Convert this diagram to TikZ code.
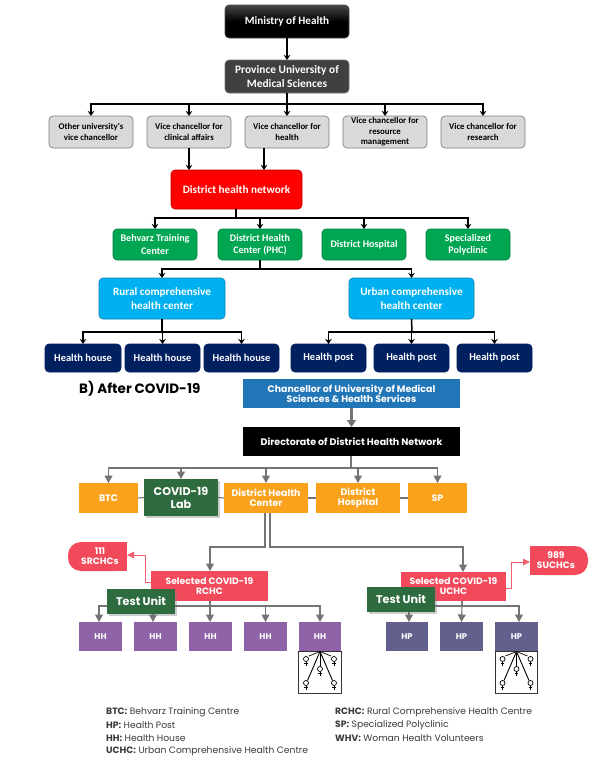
\documentclass[tikz,border=0pt]{standalone}
\usepackage{fontspec}
\setmainfont{Poppins}
\newfontfamily\topfont{Carlito}
\usetikzlibrary{arrows.meta,shadows,calc,shapes.misc}
\definecolor{gbox}{HTML}{D9D9D9}
\definecolor{gedge}{HTML}{7F7F7F}
\definecolor{netgreen}{HTML}{00A651}
\definecolor{skyb}{HTML}{00B0F0}
\definecolor{navyb}{HTML}{002060}
\definecolor{chanb}{HTML}{2176B8}
\definecolor{orangeb}{HTML}{FAA21B}
\definecolor{labg}{HTML}{2E6B3E}
\definecolor{redb}{HTML}{F24A5A}
\definecolor{pinkl}{HTML}{F2606E}
\definecolor{purpb}{HTML}{8F63A8}
\definecolor{slateb}{HTML}{62618E}
\definecolor{linegray}{HTML}{747474}
\definecolor{legtext}{HTML}{3A3A3A}
\tikzset{
  x=1pt,y=-1pt,
  boxbase/.style={inner sep=0pt,outer sep=0pt,align=center,font=\topfont\bfseries},
  roundbase/.style={boxbase,rounded corners=4pt,line width=.6pt,text=white},
  minbox/.style={roundbase,draw=black!70,top color=black!72,bottom color=black,middle color=black,font=\topfont\bfseries\fontsize{11.2}{14}\selectfont},
  provbox/.style={roundbase,draw=black!55,fill=black!75,font=\topfont\bfseries\fontsize{11.4}{14}\selectfont},
  vcbox/.style={roundbase,draw=gedge,fill=gbox,text=black,line width=.7pt,font=\topfont\bfseries\fontsize{8.8}{10.4}\selectfont},
  redbox/.style={roundbase,draw=red!75!black,fill=red,font=\topfont\bfseries\fontsize{11.2}{14}\selectfont},
  greenbox/.style={roundbase,draw=netgreen!75!black,fill=netgreen,font=\topfont\bfseries\fontsize{10.1}{12.5}\selectfont},
  skybox/.style={roundbase,draw=skyb!75!black,fill=skyb,font=\topfont\bfseries\fontsize{11.2}{14}\selectfont},
  navybox/.style={roundbase,draw=navyb,fill=navyb,font=\topfont\bfseries\fontsize{10.5}{13}\selectfont},
  chanbox/.style={boxbase,fill=chanb,text=white,font=\bfseries\fontsize{9.4}{10.2}\selectfont},
  blackbox/.style={boxbase,fill=black,text=white,font=\bfseries\fontsize{9.5}{10}\selectfont},
  orgbox/.style={boxbase,fill=orangeb,text=white,font=\bfseries\fontsize{9.4}{9.6}\selectfont},
  labbox/.style={boxbase,fill=labg,text=white,drop shadow={shadow xshift=1.5pt,shadow yshift=-1.5pt,opacity=.4},font=\bfseries\fontsize{11.2}{12.8}\selectfont},
  selbox/.style={boxbase,fill=redb,text=white,font=\bfseries\fontsize{9.2}{10}\selectfont},
  capbox/.style={inner sep=0pt,outer sep=0pt,align=center,text=white,font=\bfseries\fontsize{9.2}{10}\selectfont},
  hhbox/.style={boxbase,fill=purpb,text=white,font=\bfseries\fontsize{8.3}{9}\selectfont},
  hpbox/.style={boxbase,fill=slateb,text=white,font=\bfseries\fontsize{8.3}{9}\selectfont},
  wbox/.style={inner sep=0pt,outer sep=0pt,draw=black!80,line width=.9pt,fill=white},
  blk/.style={line width=1.5pt,black},
  blkarr/.style={blk,-{Stealth[length=5pt,width=6.5pt]}},
  gry/.style={line width=1.1pt,linegray},
  gryarr/.style={gry,-{Triangle[length=7.5pt,width=8pt]}},
  gryfat/.style={line width=2.4pt,linegray,-{Triangle[length=7pt,width=9pt]}},
  pnk/.style={line width=1pt,pinkl,-{Triangle[length=7pt,width=6.5pt]}},
  legend/.style={inner sep=0pt,anchor=west,text=legtext,font=\fontsize{9.2}{10}\selectfont},
  ttl/.style={inner sep=0pt,anchor=west,text=black,font=\bfseries\fontsize{13.5}{15}\selectfont},
  venus/.pic={\draw[line width=.7pt,black] (0,0) circle (2.5);
    \draw[line width=.7pt,black] (0,2.5) -- (0,6.5) (-1.8,4.7) -- (1.8,4.7);}
}
\newcommand{\bx}[7]{\node[#2,minimum width={(#5-#3)*1pt},minimum height={(#6-#4)*1pt}] (#1) at ({(#3+#5)/2},{(#4+#6)/2}) {#7};}
\begin{document}
\begin{tikzpicture}
\useasboundingbox (0,0) rectangle (590,764);
\fill[white] (0,0) rectangle (590,764);
% top chart
\bx{moh}{minbox}{225}{5}{349}{38}{Ministry of Health}
\bx{prov}{provbox}{225}{60}{349}{93}{Province University of\\Medical Sciences}
\bx{vca}{vcbox}{49}{116}{133}{148}{Other university's\\vice chancellor}
\bx{vcb}{vcbox}{147}{116}{231}{148}{Vice chancellor for\\clinical affairs}
\bx{vcc}{vcbox}{245}{116}{329}{148}{Vice chancellor for\\health}
\bx{vcd}{vcbox}{343}{116}{427}{148}{Vice chancellor for\\resource\\management}
\bx{vce}{vcbox}{441}{116}{525}{148}{Vice chancellor for\\research}
\bx{dhn}{redbox}{171}{170}{302}{209}{District health network}
\bx{gra}{greenbox}{113}{229}{197}{260}{Behvarz Training\\Center}
\bx{grb}{greenbox}{218}{229}{302}{260}{District Health\\Center (PHC)}
\bx{grc}{greenbox}{322}{229}{406}{260}{District Hospital}
\bx{grd}{greenbox}{426}{229}{510}{260}{Specialized\\Polyclinic}
\bx{rur}{skybox}{99}{278}{225}{319}{Rural comprehensive\\health center}
\bx{urb}{skybox}{349}{278}{474}{319}{Urban comprehensive\\health center}
\bx{nva}{navybox}{45}{344}{121}{372}{Health house}
\bx{nvb}{navybox}{125}{344}{200}{372}{Health house}
\bx{nvc}{navybox}{204}{344}{279}{372}{Health house}
\bx{nvd}{navybox}{291}{344}{366}{372}{Health post}
\bx{nve}{navybox}{374}{344}{449}{372}{Health post}
\bx{nvf}{navybox}{457}{344}{532}{372}{Health post}
\draw[blkarr] (moh.south) -- (prov.north);
\coordinate (busa) at (287,104);
\draw[blk] (prov.south) -- (busa);
\foreach \t in {vca,vcb,vcc,vcd,vce} \draw[blkarr] (busa) -| (\t.north);
\draw[blkarr] (vcb.south) -- (vcb.south |- dhn.north);
\coordinate (hfoot) at (264,148);
\draw[blkarr] (hfoot) -- (hfoot |- dhn.north);
\coordinate (dfoot) at (236,209);
\coordinate (busb) at (236,218);
\draw[blk] (dfoot) -- (busb);
\foreach \t in {gra,grb,grc,grd} \draw[blkarr] (busb) -| (\t.north);
\coordinate (busc) at (260,269);
\draw[blk] (grb.south) -- (busc);
\foreach \t in {rur,urb} \draw[blkarr] (busc) -| (\t.north);
\coordinate (busd) at (162,332);
\draw[blk] (rur.south) -- (busd);
\foreach \t in {nva,nvb,nvc} \draw[blkarr] (busd) -| (\t.north);
\coordinate (buse) at (412,332);
\draw[blk] (urb.south) -- (buse);
\foreach \t in {nvd,nve,nvf} \draw[blkarr] (buse) -| (\t.north);
% after covid
\node[ttl] (title) at (79,389) {B) After COVID-19};
\bx{chan}{chanbox}{243}{379}{460}{408}{Chancellor of University of Medical\\Sciences \& Health Services}
\bx{dir}{blackbox}{243}{427}{460}{456}{Directorate of District Health Network}
\bx{btc}{orgbox}{79}{483}{138}{513}{BTC}
\bx{dhc}{orgbox}{224}{483}{308}{513}{District Health\\Center}
\bx{dho}{orgbox}{316}{483}{400}{513}{District\\Hospital}
\bx{spc}{orgbox}{408}{483}{467}{513}{SP}
\coordinate (labtop) at (181,479);
\draw[gryfat] (chan.south) -- (chan.south |- dir.north);
\coordinate (busf) at (351,468);
\draw[gry] ([xshift=-.5pt]dir.south) -- (busf);
\draw[gry,line width=1.5pt] (329,468) -- (busf);
\foreach \t in {btc,dhc,dho,spc} \draw[gryarr] (busf) -| (\t.north);
\draw[gryarr] (busf) -| (labtop);
\draw[gry] (dhc.east) -- (dho.west);
\draw[gry] (dho.east) -- (spc.west);
% selected
\bx{rchc}{selbox}{151}{571}{268}{601}{Selected COVID-19\\RCHC}
\bx{uchc}{selbox}{401}{572}{506}{601}{Selected COVID-19\\UCHC}
\bx{ha}{hhbox}{79}{622}{122}{651}{HH}
\bx{hb}{hhbox}{134}{622}{177}{651}{HH}
\bx{hc}{hhbox}{189}{622}{232}{651}{HH}
\bx{hd}{hhbox}{244}{622}{287}{651}{HH}
\bx{he}{hhbox}{299}{622}{341}{651}{HH}
\bx{pa}{hpbox}{386}{622}{428}{651}{HP}
\bx{pb}{hpbox}{440}{622}{483}{651}{HP}
\bx{pc}{hpbox}{495}{622}{538}{651}{HP}
\coordinate (dl) at (265,513);
\coordinate (dr) at (270,513);
\coordinate (ltop) at (265,547);
\coordinate (rtop) at (270,547);
\coordinate (rin) at (210,571);
\coordinate (uin) at (463,572);
\draw[gryarr] (dl) -- (ltop) -| (rin);
\draw[gryarr] (dr) -- (rtop) -| (uin);
% caps
\fill[redb,rounded corners=13pt] (127,542) -- (68,542) -- (68,571) -- (127,571) -- cycle;
\fill[redb] (100,542) rectangle (127,571);
\node[capbox] (sr) at (100,556.5) {111\\SRCHCs};
\fill[redb,rounded corners=13pt] (530,546) -- (588,546) -- (588,575) -- (530,575) -- cycle;
\fill[redb] (530,546) rectangle (560,575);
\node[capbox] (su) at (556,560.5) {989\\SUCHCs};
\coordinate (srtip) at (127,555);
\coordinate (sutip) at (530,562);
\draw[pnk] (rchc.west |- 0,582) -- (145,582) -- (145,555) -- (srtip);
\draw[pnk] (uchc.east |- 0,588) -- (511,588) -- (511,562) -- (sutip);
% buses
\coordinate (rbus) at (210,606);
\draw[gry] (rchc.south -| rbus) -- (rbus);
\draw[gryarr] (rbus) -| ([xshift=-1.5pt]ha.north);
\draw[gryarr] (rbus) -| ([xshift=-2.5pt]hb.north);
\draw[gryarr] (rbus) -- ([xshift=-.5pt]hc.north);
\draw[gryarr] (rbus) -| (hd.north);
\draw[gryarr] (rbus) -| (he.north);
\coordinate (ubus) at (462,606);
\draw[gry] (ubus |- uchc.south) -- (ubus);
\draw[gryarr] (ubus) -| ([xshift=2pt]pa.north);
\draw[gryarr] (ubus) -- (pb.north);
\draw[gryarr] (ubus) -| ([xshift=2.5pt]pc.north);
% test units
\bx{tua}{labbox}{107}{589}{175}{614}{Test Unit}
\bx{tub}{labbox}{367}{587}{435}{612}{Test Unit}
\bx{lab}{labbox}{144}{479}{218}{516}{COVID-19\\Lab}
\draw[gry] (btc.east) -- (lab.west);
\draw[gry] (lab.east) -- (dhc.west);
% WHV icons
\foreach \cx/\nm in {320/wa,516.5/wb}{
  \node[wbox,minimum width=42.5pt,minimum height=42pt] (\nm) at (\cx,672) {};
  \coordinate (\nm o) at (\cx,651.5);
  \draw[line width=.7pt,black] (\nm o) -- ++(-11,4.5);
  \draw[line width=.7pt,black] (\nm o) -- ++(11,4.5);
  \draw[line width=.9pt,black] (\nm o) -- ++(-12.5,29);
  \draw[line width=.9pt,black] (\nm o) -- ++(12.5,29);
  \draw[line width=.7pt,black] (\nm o) -- ++(0,15);
  \pic at (\cx-14,659) {venus};
  \pic at (\cx+14,659) {venus};
  \pic at (\cx,669) {venus};
  \pic at (\cx-14,683) {venus};
  \pic at (\cx+14,683) {venus};
}
% legend
\node[legend] (la) at (106,712) {\textbf{BTC:} Behvarz Training Centre};
\node[legend] (lb) at (106,725) {\textbf{HP:} Health Post};
\node[legend] (lc) at (106,738) {\textbf{HH:} Health House};
\node[legend] (ld) at (106,751) {\textbf{UCHC:} Urban Comprehensive Health Centre};
\node[legend] (le) at (335,712) {\textbf{RCHC:} Rural Comprehensive Health Centre};
\node[legend] (lf) at (335,725) {\textbf{SP:} Specialized Polyclinic};
\node[legend] (lg) at (335,738) {\textbf{WHV:} Woman Health Volunteers};
\end{tikzpicture}
\end{document}
